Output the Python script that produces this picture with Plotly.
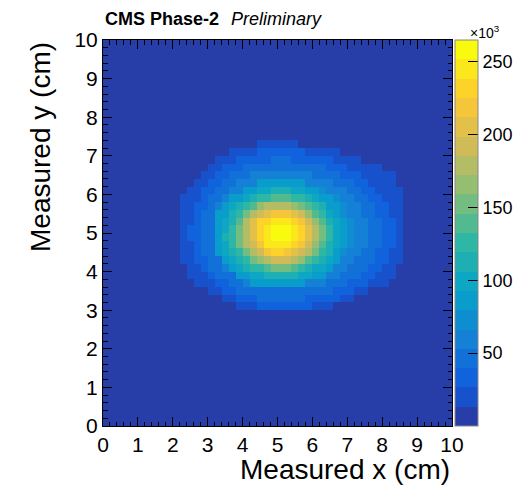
import numpy as np
import plotly.graph_objects as go

# ---------------- data ----------------
# 50 x 50 bins (0.2 cm) over 0..10 cm. Each row string gives the colour level (0..19,
# digits then a..j), row 0 = top (y 9.8-10.0), col 0 = x 0.0-0.2.
ZERO = "0000000000 0000000000 0000000000 0000000000 0000000000"
level_rows = [ZERO] * 13 + [
    "0000000000 0000000000 0011111100 0000000000 0000000000",  # 13
    "0000000000 0000000011 1122222221 1111000000 0000000000",  # 14
    "0000000000 0000001112 2222333222 2221111000 0000000000",  # 15
    "0000000000 0000011222 3333333333 3322211111 0000000000",  # 16
    "0000000000 0000112233 3444444444 3333222111 1100000000",  # 17
    "0000000000 0001122334 4466666664 4443332211 1100000000",  # 18
    "0000000000 0011223344 6677888776 6544433221 1110000000",  # 19
    "0000000000 0111233466 7899aaa998 7665443322 1110000000",  # 20
    "0000000000 0112234678 9acddddcba 9866544332 2110000000",  # 21
    "0000000000 0112336689 bdefgggfec a976544332 2110000000",  # 22
    "0000000000 011233678a dfhhiiihge ca87654433 2210000000",  # 23
    "0000000000 012233679b dfhijjjihf db97654433 2210000000",  # 24
    "0000000000 012233689b dfhijjjihf db97654433 2210000000",  # 25
    "0000000000 011233679b degiiiihge ca87654433 2210000000",  # 26
    "0000000000 0112336789 bdeghhgfed b986544332 2110000000",  # 27
    "0000000000 0112233678 9bcdeeedca 9876443332 2110000000",  # 28
    "0000000000 0011233467 899abbba98 7764433322 1100000000",  # 29
    "0000000000 0011123336 6778888877 6644333221 1100000000",  # 30
    "0000000000 0001112233 4666666664 4433322211 1000000000",  # 31
    "0000000000 0000011223 3333333333 3332221100 0000000000",  # 32
    "0000000000 0000000112 2233333332 2222110000 0000000000",  # 33
    "0000000000 0000000001 1122222222 1110000000 0000000000",  # 34
] + [ZERO] * 15

n_bins = 50
x_min, x_max = 0.0, 10.0
z_max = 265.0          # colour axis top (x10^3)
n_levels = 20
cbar_ticks = [50, 100, 150, 200, 250]
x_ticks = list(range(0, 11))
y_ticks = list(range(0, 11))

title_x = "Measured x (cm)"
title_y = "Measured y (cm)"

# ---------------- build ----------------
digits = "0123456789abcdefghij"
levels = np.array([[digits.index(ch) for ch in r.replace(" ", "")] for r in level_rows])
step = z_max / n_levels
z = (levels + 0.5) * step
bw = (x_max - x_min) / n_bins
xc = x_min + bw * (np.arange(n_bins) + 0.5)
yc = x_max - bw * (np.arange(n_bins) + 0.5)

# ROOT kBird palette, 20 contour colours
stops = [0.0, 0.125, 0.25, 0.375, 0.5, 0.625, 0.75, 0.875, 1.0]
red = [0.2082, 0.0592, 0.0780, 0.0232, 0.1802, 0.5301, 0.8186, 0.9956, 0.9764]
green = [0.1664, 0.3599, 0.5041, 0.6419, 0.7178, 0.7492, 0.7328, 0.7862, 0.9832]
blue = [0.5293, 0.8684, 0.8385, 0.7914, 0.6425, 0.4662, 0.3499, 0.1968, 0.0539]
cols = []
for k in range(n_levels):
    p = int((k + 0.99) * 255 / n_levels) / 254.0
    r, g, b = (np.interp(p, stops, c) for c in (red, green, blue))
    cols.append(f"rgb({int(round(r*255))},{int(round(g*255))},{int(round(b*255))})")
cscale = []
for k, c in enumerate(cols):
    cscale.append([k / n_levels, c])
    cscale.append([(k + 1) / n_levels, c])

FONT = "Liberation Sans, Arial, Helvetica, sans-serif"

fig = go.Figure(go.Heatmap(
    x=xc, y=yc, z=z, zmin=0, zmax=z_max, colorscale=cscale,
    hoverinfo="skip",
    colorbar=dict(
        x=1.0086, xanchor="left", xpad=0, y=0.5, yanchor="middle", len=1, lenmode="fraction",
        ypad=0, thickness=23, outlinewidth=1, outlinecolor="#888",
        tickvals=cbar_ticks, ticks="inside", ticklen=10, tickcolor="black",
        tickfont=dict(family=FONT, size=18, color="black"),
    ),
))

axis_common = dict(
    range=[0, 10], ticks="inside", ticklen=9, tickwidth=1, tickcolor="black",
    showline=True, linecolor="black", linewidth=1, mirror="ticks",
    showgrid=False, zeroline=False,
    tickfont=dict(family=FONT, size=21, color="black"),
    minor=dict(dtick=0.2, ticks="inside", ticklen=4.5, tickcolor="black", showgrid=False),
)
fig.update_layout(
    width=528, height=486,
    margin=dict(l=103, r=76, t=40, b=60, autoexpand=False),
    paper_bgcolor="white", plot_bgcolor="white",
    xaxis=dict(tickvals=x_ticks, **axis_common),
    yaxis=dict(tickvals=y_ticks, **axis_common),
    showlegend=False,
    annotations=[
        dict(text=title_x, xref="paper", yref="paper", x=1.0, y=-0.113, xanchor="right",
             yanchor="middle", showarrow=False, font=dict(family=FONT, size=28, color="black")),
        dict(text=title_y, xref="paper", yref="paper", x=-0.1805, y=1.0, xanchor="center",
             yanchor="top", textangle=-90, showarrow=False,
             font=dict(family=FONT, size=28, color="black")),
        dict(text="<b>CMS Phase-2</b>", xref="paper", yref="paper", x=0.0, y=1.0544,
             xanchor="left", yanchor="middle", showarrow=False,
             font=dict(family=FONT, size=18, color="black")),
        dict(text="<i>Preliminary</i>", xref="paper", yref="paper", x=0.361, y=1.0544,
             xanchor="left", yanchor="middle", showarrow=False,
             font=dict(family=FONT, size=18, color="black")),
        dict(text="×10<sup>3</sup>", xref="paper", yref="paper", x=1.046, y=1.0207,
             xanchor="left", yanchor="middle", showarrow=False,
             font=dict(family=FONT, size=14, color="black")),
    ],
)

fig.write_html("out.html")
